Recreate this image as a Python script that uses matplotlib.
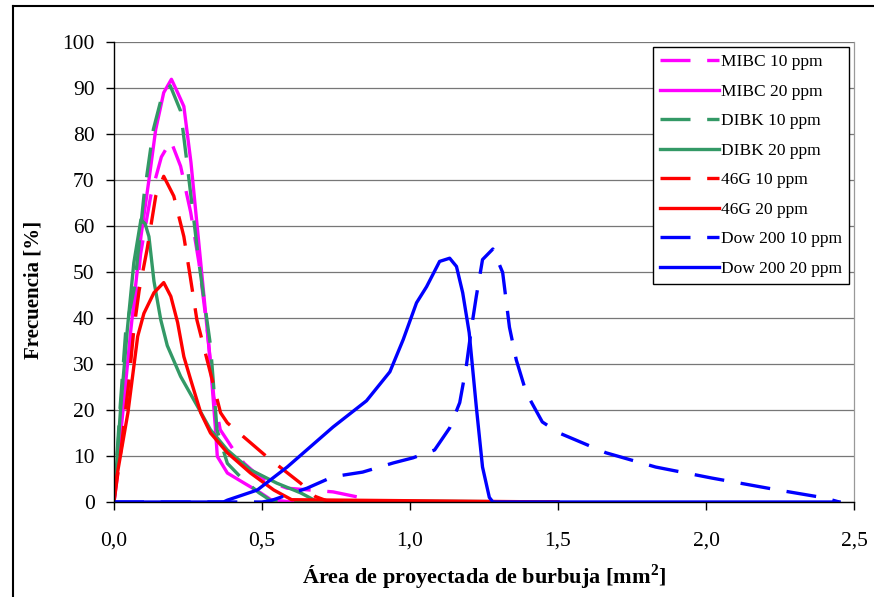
import matplotlib
matplotlib.use('Agg')
import matplotlib.pyplot as plt
from matplotlib.lines import Line2D
from matplotlib.ticker import FuncFormatter

plt.rcParams['font.family'] = ['Liberation Serif', 'DejaVu Serif']

# Data
mibc10_x = [0, 0.03, 0.06, 0.09, 0.124, 0.16, 0.192, 0.225, 0.259, 0.287, 0.315, 0.337, 0.359, 0.404, 0.44, 0.5, 0.585, 0.74, 0.83, 0.87, 1.0, 1.25]
mibc10_y = [0, 15, 35, 54, 66.5, 75, 78.5, 73, 63, 52, 37.5, 23, 15.7, 11.3, 8.4, 5, 3, 2.2, 1.0, 0.2, 0, 0]

mibc20_x = [0, 0.024, 0.057, 0.091, 0.118, 0.141, 0.168, 0.194, 0.215, 0.236, 0.26, 0.293, 0.326, 0.343, 0.349, 0.383, 0.44, 0.495, 0.53, 0.6, 1.5]
mibc20_y = [0, 15.7, 37.5, 57.7, 70, 81, 89, 91.9, 89, 86, 73.8, 52, 30, 15.7, 9.9, 6.3, 4.1, 2, 0.5, 0, 0]

dibk10_x = [0, 0.02, 0.04, 0.07, 0.101, 0.133, 0.157, 0.19, 0.225, 0.246, 0.287, 0.326, 0.348, 0.383, 0.437, 0.49, 0.53, 0.6, 1.5]
dibk10_y = [0, 20, 37.5, 47, 66.5, 81, 87, 90.5, 85, 74, 52, 34, 15.7, 8.4, 4.8, 2, 0.3, 0, 0]

dibk20_x = [0, 0.022, 0.045, 0.067, 0.091, 0.105, 0.118, 0.135, 0.158, 0.18, 0.225, 0.282, 0.326, 0.383, 0.461, 0.55, 0.63, 0.68, 1.5]
dibk20_y = [0, 20, 37.5, 52, 61.4, 60.5, 57.7, 48, 39.6, 34, 27.3, 20.8, 15.7, 11.3, 7, 4.1, 2, 0.3, 0]

g46_10_x = [0, 0.025, 0.05, 0.067, 0.085, 0.112, 0.141, 0.168, 0.202, 0.236, 0.258, 0.28, 0.326, 0.36, 0.383, 0.45, 0.517, 0.63, 0.68, 0.73, 1.5]
g46_10_y = [0, 12, 26, 37.5, 46, 55, 66.5, 70.8, 66.5, 57.7, 48.8, 39.6, 28, 19.4, 17.2, 13.5, 9.8, 4.1, 1.2, 0, 0]

g46_20_x = [0, 0.047, 0.08, 0.101, 0.135, 0.168, 0.192, 0.215, 0.236, 0.259, 0.293, 0.326, 0.383, 0.461, 0.54, 0.6, 1.5]
g46_20_y = [2, 19.4, 36, 41, 45.5, 47.7, 44.7, 39, 31.6, 26.6, 19.4, 15, 10.7, 6.3, 2.6, 0.5, 0]

dow10_x = [0, 0.5, 0.53, 0.652, 0.74, 0.84, 0.944, 1.01, 1.083, 1.134, 1.168, 1.19, 1.208, 1.224, 1.245, 1.28, 1.313, 1.336, 1.359, 1.393, 1.447, 1.504, 1.662, 1.83, 2.02, 2.244, 2.4, 2.45]
dow10_y = [0, 0, 0.3, 3, 5.5, 6.5, 8.5, 9.6, 11.3, 16.1, 21.6, 29.4, 38, 44.7, 52.7, 55, 49.9, 38, 30.9, 23.7, 17.4, 15, 10.7, 7.6, 5.2, 2.6, 0.9, 0]

dow20_x = [0, 0.37, 0.383, 0.484, 0.585, 0.74, 0.853, 0.932, 0.977, 1.022, 1.056, 1.1, 1.134, 1.157, 1.178, 1.2, 1.224, 1.245, 1.268, 1.28, 2.45]
dow20_y = [0, 0, 0.4, 2.6, 7.6, 16.3, 22, 28.3, 35.3, 43.3, 46.8, 52.3, 53, 51.2, 45.5, 36.8, 20.7, 7.6, 1, 0, 0]

series = [
    ("MIBC 10 ppm", mibc10_x, mibc10_y, '#FF00FF', True),
    ("MIBC 20 ppm", mibc20_x, mibc20_y, '#FF00FF', False),
    ("DIBK 10 ppm", dibk10_x, dibk10_y, '#339966', True),
    ("DIBK 20 ppm", dibk20_x, dibk20_y, '#339966', False),
    ("46G 10 ppm", g46_10_x, g46_10_y, '#FF0000', True),
    ("46G 20 ppm", g46_20_x, g46_20_y, '#FF0000', False),
    ("Dow 200 10 ppm", dow10_x, dow10_y, '#0000FF', True),
    ("Dow 200 20 ppm", dow20_x, dow20_y, '#0000FF', False),
]

fig = plt.figure(figsize=(8.74, 5.97), dpi=100)
ax = fig.add_axes([114/874, 1 - 502/597, 740/874, 460/597])

for label, xs, ys, col, dashed in series:
    if dashed:
        ax.plot(xs, ys, color=col, lw=2.4, dashes=(9, 5), label=label,
                solid_capstyle='butt', dash_capstyle='butt', dash_joinstyle='round')
    else:
        ax.plot(xs, ys, color=col, lw=2.4, label=label, solid_joinstyle='round')

ax.set_xlim(0, 2.5)
ax.set_ylim(0, 100)
ax.set_xticks([0, 0.5, 1.0, 1.5, 2.0, 2.5])
ax.set_yticks(range(0, 101, 10))
ax.xaxis.set_major_formatter(FuncFormatter(lambda v, p: f"{v:.1f}".replace('.', ',')))
ax.yaxis.grid(True, color='#777777', lw=0.9)
ax.set_axisbelow(True)

ax.spines['top'].set_visible(False)
ax.spines['right'].set_color('#999999')
ax.spines['right'].set_linewidth(0.9)
ax.spines['left'].set_linewidth(1.0)
ax.spines['bottom'].set_linewidth(1.0)
ax.tick_params(axis='both', direction='out', length=6, width=1.0, labelsize=15.5)
ax.tick_params(axis='x', pad=15)
ax.tick_params(axis='y', pad=8)

ax.set_xlabel("Área de proyectada de burbuja [mm$^\\mathregular{2}$]", fontsize=16, fontweight='bold', labelpad=9)
ax.set_ylabel("Frecuencia [%]", fontsize=15, fontweight='bold')
ax.yaxis.set_label_coords(-0.095, 0.46)

leg = ax.legend(loc='upper right', bbox_to_anchor=(0.993, 0.989), borderaxespad=0,
                fontsize=12.5, handlelength=3.4, handletextpad=0.1, labelspacing=0.77,
                fancybox=False, framealpha=1, edgecolor='black', borderpad=0.4)
leg.get_frame().set_linewidth(1.0)

# outer chart border (left and top)
fig.add_artist(Line2D([13/874, 13/874], [0, 1 - 6/597], color='black', lw=1.5))
fig.add_artist(Line2D([13/874, 1], [1 - 6/597, 1 - 6/597], color='black', lw=1.5))

fig.savefig('out.png', dpi=100)
